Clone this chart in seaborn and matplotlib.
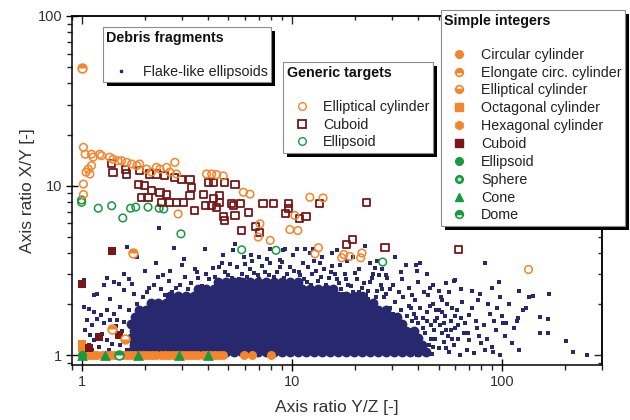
import numpy as np
import matplotlib
matplotlib.use("Agg")
import matplotlib.pyplot as plt
import seaborn as sns
from matplotlib.lines import Line2D
from matplotlib.markers import MarkerStyle
from matplotlib.patches import Rectangle
from matplotlib.transforms import IdentityTransform
from matplotlib.ticker import LogLocator, NullFormatter, FixedLocator, FixedFormatter

sns.set_style("ticks")
plt.rcParams["font.family"] = ["Liberation Sans", "DejaVu Sans"]

ORANGE = "#F5842A"
DARKRED = "#7A1518"
GREEN = "#17993F"
NAVY = "#28286F"

# ---------------- axis text ----------------
x_label = "Axis ratio Y/Z [-]"
y_label = "Axis ratio X/Y [-]"
x_ticks = [1, 10, 100]
x_tick_labels = ["1", "10", "100"]
y_ticks = [1, 10, 100]
y_tick_labels = ["1", "10", "100"]

# ---------------- debris fragments (flake-like ellipsoids) ----------------
# dense core, read row by row (y level of each row, x positions along it)
debris_row_y = [1.04, 1.14, 1.26, 1.38, 1.52, 1.67, 1.84, 2.02, 2.22, 2.44, 2.69]
debris_row1_x = [1.70, 1.86, 2.04, 2.21, 2.40, 2.63, 2.89, 3.14, 3.42, 3.74, 4.10, 4.46, 4.86, 5.32, 5.81, 6.33, 6.92, 7.56, 8.24, 9.01, 9.82, 10.7, 11.7, 12.8, 13.9, 15.2, 16.6, 18.1, 19.7, 21.6, 23.6, 25.8, 28.1, 30.6, 33.6, 36.4, 40.0, 43.4]
debris_row2_x = [1.78, 1.94, 2.12, 2.31, 2.52, 2.76, 3.01, 3.28, 3.58, 3.91, 4.27, 4.66, 5.09, 5.56, 6.06, 6.62, 7.23, 7.89, 8.61, 9.40, 10.3, 11.2, 12.2, 13.3, 14.6, 15.9, 17.4, 19.0, 20.7, 22.6, 24.6, 26.9, 29.3, 32.1, 35.0, 38.2, 41.5]
debris_row3_x = [1.71, 1.86, 2.03, 2.21, 2.41, 2.63, 2.88, 3.15, 3.43, 3.74, 4.09, 4.46, 4.87, 5.32, 5.80, 6.34, 6.92, 7.55, 8.24, 9.00, 9.83, 10.7, 11.7, 12.8, 13.9, 15.2, 16.6, 18.1, 19.8, 21.6, 23.6, 25.7, 28.1, 30.7, 33.4, 36.6, 39.8]
debris_row4_x = [1.78, 1.94, 2.12, 2.31, 2.52, 2.75, 3.01, 3.28, 3.58, 3.91, 4.27, 4.66, 5.09, 5.56, 6.06, 6.62, 7.23, 7.89, 8.61, 9.40, 10.3, 11.2, 12.2, 13.3, 14.6, 15.9, 17.4, 19.0, 20.7, 22.6, 24.6, 26.9, 29.3, 32.0, 35.1, 38.0]
debris_row5_x = [1.72, 1.86, 2.03, 2.21, 2.41, 2.63, 2.88, 3.14, 3.43, 3.74, 4.09, 4.46, 4.87, 5.32, 5.80, 6.34, 6.92, 7.55, 8.24, 9.00, 9.83, 10.7, 11.7, 12.8, 13.9, 15.2, 16.6, 18.1, 19.8, 21.6, 23.6, 25.7, 28.1, 30.7, 33.5]
debris_row6_x = [1.80, 1.94, 2.12, 2.31, 2.52, 2.75, 3.01, 3.28, 3.58, 3.91, 4.27, 4.66, 5.09, 5.56, 6.06, 6.62, 7.23, 7.89, 8.61, 9.40, 10.3, 11.2, 12.2, 13.3, 14.6, 15.9, 17.4, 19.0, 20.7, 22.6, 24.6, 26.9, 29.3, 31.8]
debris_row7_x = [1.87, 2.03, 2.21, 2.41, 2.63, 2.88, 3.14, 3.43, 3.74, 4.09, 4.46, 4.87, 5.32, 5.80, 6.34, 6.92, 7.55, 8.24, 9.00, 9.83, 10.7, 11.7, 12.8, 13.9, 15.2, 16.6, 18.1, 19.8, 21.6, 23.6, 25.7, 28.0]
debris_row8_x = [2.13, 2.31, 2.52, 2.75, 3.01, 3.28, 3.58, 3.91, 4.27, 4.66, 5.09, 5.56, 6.06, 6.62, 7.23, 7.89, 8.61, 9.40, 10.3, 11.2, 12.2, 13.3, 14.6, 15.9, 17.4, 19.0, 20.7, 22.6, 24.5]
debris_row9_x = [2.64, 2.88, 3.14, 3.43, 3.74, 4.09, 4.46, 4.87, 5.32, 5.80, 6.34, 6.92, 7.55, 8.24, 9.00, 9.83, 10.7, 11.7, 12.8, 13.9, 15.2, 16.6, 18.1, 19.8, 21.5]
debris_row10_x = [3.58, 3.91, 4.27, 4.66, 5.09, 5.56, 6.06, 6.62, 7.23, 7.89, 8.61, 9.40, 10.3, 11.2, 12.2, 13.3, 14.6, 15.8]
debris_row11_x = [4.46, 4.87, 5.32, 5.80, 6.34, 6.92, 7.55, 8.24, 9.00, 9.83, 10.7]

# scattered fragments around the core (x, y)
debris_left = [(1.65, 4.33), (1.03, 2.79), (1.59, 3.02), (1.68, 2.83), (1.32, 2.86), (1.42, 2.70), (1.50, 2.64),
               (1.28, 2.58), (1.74, 2.64), (1.19, 2.30), (1.14, 2.25), (1.59, 2.41), (1.77, 2.30), (1.37, 2.15),
               (1.03, 1.92), (1.08, 1.88), (1.14, 1.80), (1.23, 1.72), (1.32, 1.84), (1.42, 1.76), (1.53, 1.92),
               (1.68, 1.84), (1.06, 1.61), (1.12, 1.50), (1.19, 1.64), (1.28, 1.54), (1.48, 1.61), (1.59, 1.57),
               (1.04, 1.40), (1.10, 1.31), (1.14, 1.225), (1.25, 1.34), (1.32, 1.225), (1.40, 1.17), (1.08, 1.145),
               (1.21, 1.12), (1.53, 1.145), (1.12, 1.07), (1.35, 1.07), (1.65, 1.07), (1.74, 1.225), (1.84, 1.40),
               (1.88, 1.61), (1.91, 1.80), (1.84, 2.01), (1.55, 1.38), (1.62, 1.22), (1.45, 1.48), (1.36, 1.62)]
debris_top = [(2.05, 2.35), (2.20, 2.60), (2.40, 2.45), (2.60, 2.75), (2.80, 2.50), (3.10, 2.90), (3.30, 2.65),
              (3.60, 2.85), (3.90, 3.00), (2.30, 2.90), (1.95, 2.20), (2.50, 2.25), (4.30, 2.90), (4.80, 3.10),
              (5.20, 2.85), (5.80, 3.00), (6.30, 3.20), (6.90, 2.95), (7.50, 3.10), (8.20, 2.90), (8.80, 3.30),
              (9.50, 3.00), (10.3, 3.15), (4.50, 3.30), (6.00, 3.45), (7.20, 3.35), (9.00, 3.55), (11.0, 2.95),
              (11.8, 2.70), (12.5, 3.00), (13.3, 2.75), (14.2, 3.20), (15.0, 2.85), (16.0, 3.00), (16.8, 2.65),
              (15.5, 3.35), (12.0, 3.30), (17.5, 2.30), (18.5, 2.60), (19.5, 2.35), (20.5, 2.80), (21.5, 2.50),
              (22.5, 2.25), (23.5, 2.70), (24.5, 3.00), (25.5, 2.40), (26.5, 2.60), (27.5, 2.20), (28.5, 2.85),
              (29.5, 2.45), (18.0, 3.00), (21.0, 3.20), (25.0, 3.25), (19.0, 2.20), (23.0, 2.15),
              (2.33, 5.60), (1.83, 3.80), (2.75, 4.30), (3.87, 4.20), (4.70, 3.90), (5.25, 4.15), (5.40, 4.55),
              (6.40, 3.90), (7.00, 3.80), (7.90, 4.25), (8.80, 3.66), (9.30, 4.20), (10.1, 3.87), (10.6, 4.25),
              (11.6, 4.20), (12.6, 4.25), (14.0, 3.77), (15.5, 4.00), (16.4, 4.15), (22.3, 4.40), (31.0, 3.77),
              (25.4, 3.60), (19.6, 3.77), (41.0, 3.50), (18.3, 3.60), (3.07, 3.70), (2.26, 3.50), (2.00, 3.15),
              (2.63, 3.15), (3.53, 3.08), (4.20, 3.25), (5.10, 3.47), (5.90, 3.77), (6.50, 3.60), (7.90, 3.50),
              (9.10, 4.15), (11.3, 3.50), (12.2, 4.00), (13.6, 3.50), (35.0, 3.40), (39.0, 3.40), (28.0, 2.95),
              (39.5, 3.15), (47.0, 2.60), (54.0, 2.65), (59.0, 2.73), (60.0, 2.76), (64.0, 2.45)]
debris_top2 = [(2.10, 2.50), (2.45, 2.95), (2.70, 2.35), (2.95, 2.60), (3.20, 2.45), (3.45, 3.20), (3.75, 2.55),
               (4.05, 2.80), (4.40, 2.60), (4.65, 3.50), (5.00, 2.95), (5.50, 3.30), (5.60, 2.80), (6.10, 2.90),
               (6.60, 3.05), (7.00, 2.80), (7.80, 2.95), (8.50, 3.10), (9.20, 2.85), (9.80, 3.30), (10.8, 3.10),
               (11.4, 2.80), (12.3, 2.60), (13.0, 3.15), (13.8, 2.90), (14.6, 2.60), (15.3, 3.10), (16.4, 2.80),
               (17.2, 2.45), (18.2, 2.80), (19.2, 2.55), (20.0, 3.05), (21.0, 2.35), (22.0, 2.65), (23.2, 2.40),
               (24.0, 2.85), (25.2, 2.20), (26.0, 2.95), (27.0, 2.45), (28.0, 2.30), (30.5, 2.60), (32.5, 2.35),
               (33.5, 2.80), (36.0, 2.50), (37.5, 2.25), (40.0, 2.70), (42.5, 2.35), (45.5, 2.50), (50.0, 2.40),
               (52.0, 2.10), (56.0, 2.35), (3.00, 3.40), (7.60, 3.70), (12.8, 3.60), (17.0, 3.40), (23.5, 3.50),
               (27.0, 3.20), (33.0, 3.10), (44.0, 3.00)]
debris_right = [(29.5, 1.90), (30.5, 1.75), (31.0, 2.05), (32.0, 1.60), (33.0, 1.85), (34.0, 2.20), (30.0, 1.45),
                (32.5, 1.30), (34.5, 1.50), (31.5, 1.15), (33.5, 1.05), (35.5, 1.70), (36.0, 1.95), (37.0, 1.40),
                (38.0, 1.75), (39.0, 1.20), (40.0, 1.55), (41.0, 1.90), (36.5, 1.10), (38.5, 2.10), (40.5, 1.30),
                (42.0, 1.65), (37.5, 1.60), (39.5, 1.00), (43.0, 1.35), (44.0, 1.80), (45.0, 1.15), (46.0, 1.50),
                (47.0, 2.00), (48.0, 1.25), (49.0, 1.65), (43.5, 1.05), (45.5, 1.95), (47.5, 1.40), (50.0, 1.10),
                (44.5, 2.25), (51.0, 1.50), (52.0, 1.80), (53.0, 1.20), (54.0, 1.40), (55.0, 2.00), (56.0, 1.05),
                (57.0, 1.60), (51.5, 2.20), (53.5, 1.70), (55.5, 1.30), (58.0, 1.90), (59.0, 1.15), (60.0, 1.45),
                (61.0, 1.84), (62.0, 1.25), (63.0, 1.00), (64.0, 1.65), (66.0, 1.35), (68.0, 1.07), (69.0, 1.35),
                (70.0, 1.22), (70.0, 1.72), (65.0, 2.05), (67.0, 1.55), (46.5, 1.02), (41.5, 1.12), (48.5, 1.85),
                (29.0, 1.60), (31.0, 1.35), (33.0, 1.50), (35.0, 1.25), (37.0, 1.90), (39.0, 1.65), (42.0, 1.45),
                (44.0, 1.60), (46.0, 1.25), (48.0, 1.60), (50.0, 1.85), (52.0, 1.35), (54.0, 1.10), (57.0, 1.40),
                (60.0, 1.70), (62.0, 1.50), (35.0, 1.05), (38.0, 1.35), (41.0, 1.05), (47.0, 1.12), (53.0, 1.55),
                (58.0, 1.25)]
debris_far = [(83, 3.50), (97, 2.70), (90, 2.50), (98, 2.20), (121, 2.40), (135, 2.20), (141, 2.22), (168, 2.28),
              (126, 1.84), (131, 1.89), (152, 1.67), (166, 1.63), (152, 1.35), (166, 1.35), (203, 1.21),
              (218, 1.04), (255, 1.00), (101, 1.54), (105, 1.55), (118, 1.58), (119, 1.65), (112, 1.18),
              (121, 1.07), (98, 1.00), (90, 1.11), (91, 1.04), (100, 1.70), (80, 1.18), (79, 2.30), (86, 2.00),
              (76, 1.44), (74, 1.03), (83, 1.07), (72, 1.90), (75, 1.60), (78, 1.30), (82, 1.50), (85, 1.25),
              (88, 1.75), (94, 1.40), (95, 1.90), (104, 1.30), (108, 2.00), (114, 1.45), (72, 2.40), (77, 2.10),
              (92, 1.60)]

# ---------------- generic targets ----------------
generic_ellcyl = [(1.02, 16.8), (1.04, 15.3), (1.115, 15.3), (1.135, 14.7), (1.22, 15.3), (1.245, 15.0),
                  (1.36, 14.7), (1.41, 14.3), (1.49, 14.0), (1.55, 14.0), (1.64, 13.7), (1.73, 13.4),
                  (1.83, 13.1), (1.89, 13.4), (1.115, 13.1), (1.075, 12.5), (1.05, 12.0), (1.095, 11.7),
                  (1.02, 10.2), (1.02, 8.85), (2.04, 12.5), (2.15, 12.0), (2.27, 12.8), (2.36, 12.5),
                  (2.54, 12.8), (2.78, 13.7), (2.63, 12.0), (2.83, 11.7), (3.93, 11.7), (4.16, 11.7),
                  (4.39, 11.6), (4.72, 11.4), (5.89, 9.13), (6.33, 8.9), (2.88, 6.8), (7.06, 5.95),
                  (6.93, 4.97), (7.9, 4.75), (9.8, 5.5), (10.7, 5.43), (10.35, 6.66), (12.2, 8.53),
                  (14.1, 8.45), (12.9, 3.96), (13.4, 4.3), (17.3, 3.75), (17.7, 3.92), (18.9, 3.82),
                  (21.6, 4.0), (21.3, 3.75), (134, 3.2)]
generic_cuboid = [(1.39, 13.5), (1.41, 12.0), (1.61, 12.5), (1.64, 11.7), (1.89, 12.2), (1.86, 10.2),
                  (2.0, 10.0), (1.93, 8.53), (2.07, 8.45), (2.15, 9.34), (2.36, 9.13), (2.54, 8.9),
                  (2.11, 11.7), (2.27, 11.7), (2.49, 11.4), (2.78, 11.2), (2.99, 10.9), (3.28, 10.9),
                  (3.34, 9.77), (2.4, 7.96), (2.63, 7.96), (2.83, 7.96), (3.05, 7.96), (3.28, 8.73),
                  (3.46, 7.13), (3.79, 8.9), (4.01, 10.4), (4.23, 10.4), (4.81, 10.4), (5.37, 10.2),
                  (3.87, 7.6), (4.16, 7.6), (4.23, 8.36), (4.55, 8.73), (4.55, 7.96), (4.39, 7.46),
                  (4.72, 6.54), (4.81, 6.22), (5.26, 7.6), (5.37, 6.66), (5.17, 7.8), (5.68, 7.8),
                  (6.2, 6.96), (5.78, 5.43), (6.7, 5.74), (7.06, 5.31), (7.3, 7.8), (8.18, 7.8),
                  (9.62, 7.8), (9.62, 7.3), (9.3, 6.8), (10.9, 6.4), (11.7, 6.55), (13.5, 7.85),
                  (22.7, 7.96), (18.2, 4.5), (19.4, 4.8), (27.8, 4.33), (62.5, 4.18)]
generic_ellipsoid = [(1.0, 8.22), (1.0, 7.96), (1.2, 7.35), (1.39, 7.6), (1.57, 6.44), (1.71, 7.35),
                     (1.81, 7.46), (2.07, 7.46), (2.34, 7.35), (2.46, 7.28), (2.97, 5.19), (5.78, 4.18),
                     (8.42, 4.15), (27.1, 3.54)]

# ---------------- simple integers ----------------
simple_circcyl_x = [1.0, 1.04, 1.09, 1.14, 1.19, 1.25, 1.31, 1.37, 1.43, 1.5, 1.57, 1.64, 1.72, 1.8, 1.89,
                    1.98, 2.07, 2.17, 2.27, 2.38, 2.49, 2.61, 2.73, 2.86, 2.99, 3.13, 3.28, 3.43, 3.6, 3.77,
                    3.95, 4.13, 4.32, 4.52, 4.72, 5.93, 6.47, 7.97]
simple_circcyl_y = [1.0] * len(simple_circcyl_x)
simple_elongate = [(1.0, 49.6), (1.75, 4.0), (1.4, 1.42)]
simple_ellcyl = [(1.6, 1.24)]
simple_octagonal = [(1.0, 1.17), (1.0, 1.095)]
simple_hexagonal = [(1.12, 1.0)]
simple_cuboid = [(1.0, 2.64), (1.4, 4.1), (1.21, 1.28), (1.5, 1.31), (1.08, 1.1)]
simple_ellipsoid = [(1.0, 1.0)]
simple_sphere = [(1.0, 1.0)]
simple_cone_x = [1.0, 1.29, 1.85, 2.9, 4.0]
simple_cone_y = [1.0, 1.0, 1.0, 1.0, 1.0]
simple_dome = [(1.5, 1.0)]

# ---------------- figure ----------------
fig = plt.figure(figsize=(6.3, 4.2), dpi=100)
ax = fig.add_axes([0.1143, 0.131, 0.8413, 0.831])
ax.set_xscale("log")
ax.set_yscale("log")


def xs(pairs):
    return np.array([p[0] for p in pairs], float)


def ys(pairs):
    return np.array([p[1] for p in pairs], float)


def scat(x, y, **kw):
    sns.scatterplot(x=np.asarray(x, float), y=np.asarray(y, float), ax=ax, legend=False, **kw)


# debris core
core_rows = [debris_row1_x, debris_row2_x, debris_row3_x, debris_row4_x, debris_row5_x, debris_row6_x,
             debris_row7_x, debris_row8_x, debris_row9_x, debris_row10_x, debris_row11_x]
core_x, core_y = [], []
for yv, row in zip(debris_row_y, core_rows):
    core_x += row
    core_y += [yv] * len(row)
scat(core_x, core_y, marker="o", s=50, color=NAVY, edgecolor=NAVY, linewidth=0)
for grp in (debris_left, debris_top, debris_top2, debris_right, debris_far):
    scat(xs(grp), ys(grp), marker="s", s=6.5, color=NAVY, edgecolor=NAVY, linewidth=0)

# generic targets (open)
scat(xs(generic_ellipsoid), ys(generic_ellipsoid), marker="o", s=30, color=GREEN,
     facecolor="none", edgecolor=GREEN, linewidth=1.1)
scat(xs(generic_cuboid), ys(generic_cuboid), marker="s", s=26, color=DARKRED,
     facecolor="none", edgecolor=DARKRED, linewidth=1.3)
scat(xs(generic_ellcyl), ys(generic_ellcyl), marker="o", s=30, color=ORANGE,
     facecolor="none", edgecolor=ORANGE, linewidth=1.1)

# simple integers (filled)
scat(simple_circcyl_x, simple_circcyl_y, marker="o", s=42, color=ORANGE, edgecolor=ORANGE, linewidth=0)
scat(xs(simple_hexagonal), ys(simple_hexagonal), marker="h", s=42, color=ORANGE, edgecolor=ORANGE, linewidth=0)
scat(xs(simple_octagonal), ys(simple_octagonal), marker="s", s=40, color=ORANGE, edgecolor=ORANGE, linewidth=0)
scat(xs(simple_cuboid), ys(simple_cuboid), marker="s", s=38, color=DARKRED, edgecolor=DARKRED, linewidth=0)
# half filled markers: white disc with edge, then filled half
for pairs, col, half in ((simple_elongate, ORANGE, "top"), (simple_ellcyl, ORANGE, "bottom"),
                         (simple_dome, GREEN, "top")):
    scat(xs(pairs), ys(pairs), marker="o", s=40, color="white", facecolor="white", edgecolor=col, linewidth=1.2)
    scat(xs(pairs), ys(pairs), marker=MarkerStyle("o", fillstyle=half), s=40, color=col,
         edgecolor=col, linewidth=0)
scat(xs(simple_ellipsoid), ys(simple_ellipsoid), marker="o", s=40, color=GREEN, edgecolor=GREEN, linewidth=0)
scat(xs(simple_sphere), ys(simple_sphere), marker="o", s=40, color=GREEN, edgecolor=GREEN, linewidth=0)
scat(xs(simple_sphere), ys(simple_sphere), marker="o", s=5, color="#BFE8CC", edgecolor="#BFE8CC", linewidth=0)
scat(simple_cone_x, simple_cone_y, marker="^", s=60, color=GREEN, edgecolor=GREEN, linewidth=0)

# ---------------- axes styling ----------------
ax.set_xlim(0.9, 300)
ax.set_ylim(0.875, 100)
ax.xaxis.set_major_locator(FixedLocator(x_ticks))
ax.xaxis.set_major_formatter(FixedFormatter(x_tick_labels))
ax.yaxis.set_major_locator(FixedLocator(y_ticks))
ax.yaxis.set_major_formatter(FixedFormatter(y_tick_labels))
ax.xaxis.set_minor_locator(LogLocator(base=10, subs=np.arange(2, 10)))
ax.yaxis.set_minor_locator(LogLocator(base=10, subs=np.arange(2, 10)))
ax.xaxis.set_minor_formatter(NullFormatter())
ax.yaxis.set_minor_formatter(NullFormatter())
for sp in ax.spines.values():
    sp.set_visible(True)
    sp.set_linewidth(1.1)
    sp.set_color("black")
ax.tick_params(which="major", direction="inout", length=8, width=1.0, labelsize=10.5,
               top=False, right=False, pad=3, colors="black")
ax.tick_params(which="minor", direction="out", length=3.5, width=1.0, top=False, right=False)
ax.tick_params(axis="both", which="major", labelcolor="#333333")

secx = ax.secondary_xaxis("top")
secx.tick_params(which="major", direction="in", length=5.5, width=1.0, labeltop=False)
secx.tick_params(which="minor", direction="in", length=3, width=1.0)
secx.xaxis.set_minor_locator(LogLocator(base=10, subs=np.arange(2, 10)))
secx.xaxis.set_major_formatter(NullFormatter())
secx.xaxis.set_minor_formatter(NullFormatter())
secy = ax.secondary_yaxis("right")
secy.tick_params(which="major", direction="in", length=5.5, width=1.0, labelright=False)
secy.tick_params(which="minor", direction="in", length=3, width=1.0)
secy.yaxis.set_minor_locator(LogLocator(base=10, subs=np.arange(2, 10)))
secy.yaxis.set_major_formatter(NullFormatter())
secy.yaxis.set_minor_formatter(NullFormatter())
for s in (secx, secy):
    for sp in s.spines.values():
        sp.set_linewidth(1.1)

ax.set_xlabel(x_label, fontsize=12.5, labelpad=8, color="#333333")
ax.set_ylabel(y_label, fontsize=12.5, labelpad=2, color="#333333")

# ---------------- legends ----------------
def h(marker, color, fill="full", ms=5.5, mew=1.0):
    return Line2D([], [], linestyle="none", marker=marker, markersize=ms, color=color,
                  markeredgecolor=color, fillstyle=fill, markerfacecoloralt="white",
                  markeredgewidth=mew)


leg_kw = dict(loc="upper left", frameon=True, fancybox=False, framealpha=1, edgecolor="#8c8c8c",
              borderpad=0.25, handlelength=2.1, handletextpad=0.45, labelspacing=0.27,
              borderaxespad=0, alignment="left", fontsize=10.3,
              title_fontproperties={"weight": "bold", "size": 10.3})

debris_labels = ["Flake-like ellipsoids"]
generic_labels = ["Elliptical cylinder", "Cuboid", "Ellipsoid"]
simple_labels = ["Circular cylinder", "Elongate circ. cylinder", "Elliptical cylinder", "Octagonal cylinder",
                 "Hexagonal cylinder", "Cuboid", "Ellipsoid", "Sphere", "Cone", "Dome"]

leg1 = ax.legend(handles=[h("s", NAVY, ms=2)], labels=debris_labels, title="Debris fragments\n",
                 bbox_to_anchor=(0.058, 0.968), **leg_kw)
ax.add_artist(leg1)
leg2 = ax.legend(handles=[h("o", ORANGE, "none"), h("s", DARKRED, "none", mew=1.3), h("o", GREEN, "none")],
                 labels=generic_labels, title="Generic targets\n", bbox_to_anchor=(0.398, 0.868), **leg_kw)
ax.add_artist(leg2)
sphere_h = (h("o", GREEN), Line2D([], [], linestyle="none", marker="o", markersize=1.8, color="#BFE8CC"))
leg3 = ax.legend(handles=[h("o", ORANGE), h("o", ORANGE, "top", mew=1.2), h("o", ORANGE, "bottom", mew=1.2),
                          h("s", ORANGE), h("h", ORANGE, ms=6), h("s", DARKRED), h("o", GREEN), sphere_h,
                          h("^", GREEN, ms=6), h("o", GREEN, "top", mew=1.2)],
                 labels=simple_labels, title="Simple integers\n", bbox_to_anchor=(0.696, 1.017), **leg_kw)
for lg in (leg1, leg2, leg3):
    lg.get_frame().set_linewidth(0.8)
    lg.set_zorder(6)
    for t in lg.get_texts():
        t.set_color("#222222")
    lg.get_title().set_color("#111111")

fig.canvas.draw()
renderer = fig.canvas.get_renderer()
for lg in (leg1, leg2, leg3):
    bb = lg.get_frame().get_window_extent(renderer)
    shadow = Rectangle((bb.x0 + 4, bb.y0 - 4), bb.width, bb.height, transform=IdentityTransform(),
                       facecolor="black", edgecolor="none", zorder=5.5, clip_on=False)
    ax.add_artist(shadow)

fig.savefig("out.png", dpi=100)
